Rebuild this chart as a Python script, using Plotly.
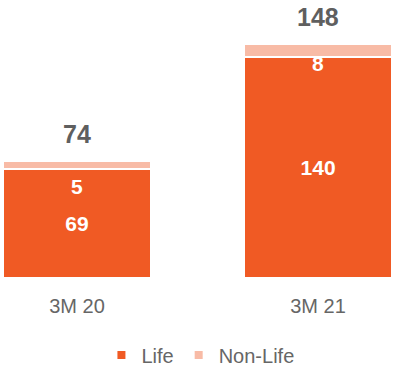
import plotly.graph_objects as go

categories = ["3M 20", "3M 21"]
life = [69, 140]
non_life = [5, 8]
totals = [a + b for a, b in zip(life, non_life)]
nl_shift = [-4, 7]

LIFE_C = "#F05A24"
NONLIFE_C = "#F8BBA6"
FONT = "Liberation Sans, Arial, sans-serif"

fig = go.Figure()
fig.add_trace(go.Bar(
    x=categories, y=life, name="Life", marker=dict(color=LIFE_C, line=dict(color="white", width=1.5)),
    text=[str(v) for v in life], textposition="inside", insidetextanchor="middle",
    textfont=dict(family=FONT, size=21, color="white", weight="bold"),
    width=0.614, hoverinfo="skip", textangle=0, showlegend=False,
))
fig.add_trace(go.Bar(
    x=categories, y=non_life, name="Non-Life", marker=dict(color=NONLIFE_C, line=dict(color="white", width=1.5)),
    width=0.614, hoverinfo="skip", showlegend=False,
))
# legend-only entries with small square symbols
for name, col in [("Life", LIFE_C), ("Non-Life", NONLIFE_C)]:
    fig.add_trace(go.Scatter(x=[None], y=[None], mode="markers", name=name,
                             marker=dict(symbol="square", size=8, color=col), showlegend=True))

for c, t in zip(categories, totals):
    fig.add_annotation(x=c, y=t, text=f"<b>{t}</b>", showarrow=False, yanchor="bottom", yshift=11,
                       font=dict(family=FONT, size=25, color="#5f5f5f"))
for c, l, n, s in zip(categories, life, non_life, nl_shift):
    fig.add_annotation(x=c, y=l, text=f"<b>{n}</b>", showarrow=False, yanchor="top", yshift=s,
                       font=dict(family=FONT, size=21, color="white"))

fig.update_layout(
    barmode="stack", width=393, height=367,
    margin=dict(l=0, r=0, t=0, b=89, autoexpand=False),
    paper_bgcolor="white", plot_bgcolor="white",
    font=dict(family=FONT, color="#666666"),
    xaxis=dict(range=[-0.3195, 1.311], showline=False, showgrid=False, zeroline=False,
               ticks="outside", ticklen=10, tickcolor="rgba(0,0,0,0)", automargin=False,
               tickfont=dict(family=FONT, size=20, color="#666666")),
    yaxis=dict(range=[0, 176], visible=False, automargin=False),
    showlegend=True,
    legend=dict(orientation="h", x=0.51, xanchor="center", y=-0.277, yanchor="middle",
                font=dict(family=FONT, size=20, color="#666666"), itemwidth=30,
                traceorder="normal", tracegroupgap=0),
    bargap=0.386,
)

fig.write_html("out.html")
